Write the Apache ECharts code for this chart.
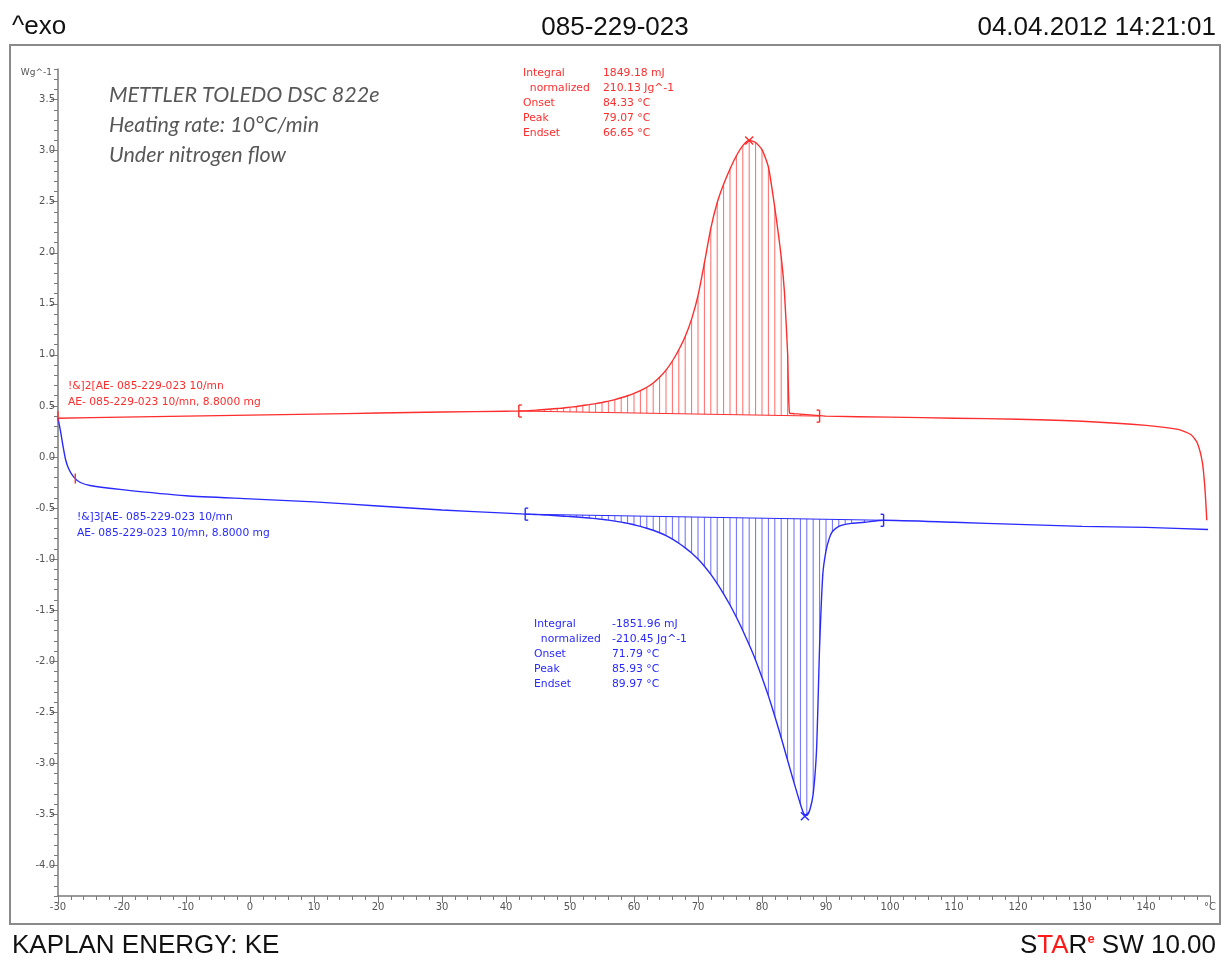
<!DOCTYPE html>
<html><head><meta charset="utf-8">
<script src="https://cdn.jsdelivr.net/npm/echarts@6/dist/echarts.min.js"></script>
<style>html,body{margin:0;padding:0;background:#fff}#c{width:1228px;height:961px}</style>
</head><body><div id="c"></div>
<script>
// ---------- data ----------
const redCurve = [
  [-30,0.38],[-20,0.39],[-10,0.40],[0,0.41],[10,0.42],[20,0.43],[30,0.44],[40,0.448],
  [42,0.45],[43,0.452],[44,0.455],[45,0.46],[46,0.465],[47,0.47],[48,0.475],[49,0.48],
  [50,0.488],[51,0.495],[52,0.504],[53,0.513],[54,0.523],[55,0.534],[56,0.547],[57,0.562],
  [58,0.58],[59,0.60],[60,0.623],[61,0.65],[62,0.683],[63,0.725],[64,0.78],[65,0.85],
  [66,0.94],[67,1.05],[68,1.18],[69,1.35],[70,1.58],[71,1.90],[72,2.24],[73,2.49],
  [74,2.67],[75,2.82],[76,2.95],[77,3.05],[78,3.10],[79,3.08],[80,3.01],[81,2.84],
  [82,2.44],[83,1.96],[83.5,1.62],[84,1.02],[84.3,0.43],[85,0.425],[86,0.42],[88,0.41],
  [90,0.40],[100,0.39],[110,0.38],[120,0.37],[130,0.35],[140,0.31],[145,0.27],[147,0.22],
  [148,0.14],[148.8,-0.05],[149.2,-0.30],[149.5,-0.62]
];
const blueCurve = [
  [-30,0.38],[-29.6,0.25],[-29.2,0.10],[-28.8,-0.03],[-28.3,-0.12],[-27.5,-0.20],[-26.5,-0.25],
  [-25,-0.28],[-20,-0.32],[-10,-0.38],[0,-0.41],[10,-0.44],[20,-0.48],[30,-0.52],[40,-0.55],
  [43,-0.56],[44,-0.562],[45,-0.565],[46,-0.568],[47,-0.572],[48,-0.576],[49,-0.58],[50,-0.584],
  [51,-0.588],[52,-0.593],[53,-0.598],[54,-0.604],[55,-0.611],[56,-0.619],[57,-0.628],[58,-0.638],
  [59,-0.65],[60,-0.664],[61,-0.68],[62,-0.698],[63,-0.718],[64,-0.742],[65,-0.77],[66,-0.805],
  [67,-0.845],[68,-0.89],[69,-0.94],[70,-1.00],[71,-1.07],[72,-1.15],[73,-1.24],[74,-1.34],
  [75,-1.45],[76,-1.57],[77,-1.70],[78,-1.84],[79,-1.99],[80,-2.16],[81,-2.34],[82,-2.54],
  [83,-2.75],[84,-2.97],[85,-3.19],[86,-3.40],[86.5,-3.49],[87,-3.51],[87.5,-3.45],[88,-3.30],
  [88.5,-2.90],[88.8,-2.30],[89,-1.85],[89.5,-1.15],[90,-0.92],[90.5,-0.80],[91,-0.73],[92,-0.68],
  [93,-0.66],[94,-0.65],[96,-0.64],[99,-0.62],[110,-0.64],[120,-0.66],[130,-0.68],[140,-0.69],[149.7,-0.71]
];
const redLimits = [[42,0.45],[89,0.40]];
const blueLimits = [[43,-0.56],[99,-0.62]];
const redPeak = [78,3.10];
const bluePeak = [86.7,-3.52];
const redStartMarks = [[-30,0.40],[-27.3,-0.21]];
const yMajorTicks = [-4.0,-3.5,-3.0,-2.5,-2.0,-1.5,-1.0,-0.5,0.0,0.5,1.0,1.5,2.0,2.5,3.0,3.5];
const xRange = [-30,150];
const yRange = [-4.3,3.8];
const redInfo = [['Integral','1849.18 mJ'],['  normalized','210.13 Jg^-1'],['Onset','84.33 °C'],['Peak','79.07 °C'],['Endset','66.65 °C']];
const blueInfo = [['Integral','-1851.96 mJ'],['  normalized','-210.45 Jg^-1'],['Onset','71.79 °C'],['Peak','85.93 °C'],['Endset','89.97 °C']];
const redLabel = ['!&]2[AE- 085-229-023 10/mn','AE- 085-229-023 10/mn, 8.8000 mg'];
const blueLabel = ['!&]3[AE- 085-229-023 10/mn','AE- 085-229-023 10/mn, 8.8000 mg'];
const noteLines = ['METTLER TOLEDO DSC 822e','Heating rate: 10°C/min','Under nitrogen flow'];
const headerTexts = ['^exo','085-229-023','04.04.2012 14:21:01'];
const footerLeft = 'KAPLAN ENERGY: KE';
const yUnit = 'Wg^-1';

// ---------- helpers ----------
const RED = '#ff2e2e', BLUE = '#2a2aff';
function baseAt(lim, t){ const [a,b]=lim; return a[1] + (b[1]-a[1])*(t-a[0])/(b[0]-a[0]); }
function hatchData(curve, lim){
  return curve.filter(p => Number.isInteger(p[0]) && p[0] > lim[0][0] && p[0] < lim[1][0])
              .map(p => [p[0], p[1], baseAt(lim, p[0])]);
}
function hatchRender(color){
  return function(params, api){
    const a = api.coord([api.value(0), api.value(1)]);
    const b = api.coord([api.value(0), api.value(2)]);
    return {type:'line', shape:{x1:a[0],y1:a[1],x2:b[0],y2:b[1]}, style:{stroke:color, lineWidth:1}};
  };
}
function markRender(color){
  return function(params, api){
    const p = api.coord([api.value(0), api.value(1)]);
    const k = api.value(2);
    const st = {stroke:color, lineWidth:1.4};
    const L = (x1,y1,x2,y2)=>({type:'line', shape:{x1,y1,x2,y2}, style:st});
    let ch = [];
    if (k === 0 || k === 1) {
      const d = k === 0 ? 3 : -3;
      ch = [L(p[0],p[1]-6,p[0],p[1]+6), L(p[0],p[1]-6,p[0]+d,p[1]-6), L(p[0],p[1]+6,p[0]+d,p[1]+6)];
    } else if (k === 2) {
      ch = [L(p[0]-4,p[1]-4,p[0]+4,p[1]+4), L(p[0]-4,p[1]+4,p[0]+4,p[1]-4)];
    } else {
      ch = [L(p[0],p[1]-5,p[0],p[1]+5)];
    }
    return {type:'group', children:ch};
  };
}
const redMarks = [[redLimits[0][0],redLimits[0][1],0],[redLimits[1][0],redLimits[1][1],1],[redPeak[0],redPeak[1],2],
  [redStartMarks[0][0],redStartMarks[0][1],3],[redStartMarks[1][0],redStartMarks[1][1],3]];
const blueMarks = [[blueLimits[0][0],blueLimits[0][1],0],[blueLimits[1][0],blueLimits[1][1],1],[bluePeak[0],bluePeak[1],2]];

const small = 'DejaVu Sans';
const graphics = [
  {type:'rect', shape:{x:10,y:45,width:1210,height:879}, style:{fill:'none', stroke:'#8a8a8a', lineWidth:2}, z:-1},
  {type:'text', left:12, top:14, style:{text:headerTexts[0], font:'26px "Liberation Sans"', fill:'#111'}},
  {type:'text', x:615, y:28, style:{text:headerTexts[1], font:'26px "Liberation Sans"', fill:'#111', align:'center', verticalAlign:'middle'}},
  {type:'text', x:1216, y:28, style:{text:headerTexts[2], font:'26px "Liberation Sans"', fill:'#111', align:'right', verticalAlign:'middle'}},
  {type:'text', x:12, y:946, style:{text:footerLeft, font:'26px "Liberation Sans"', fill:'#111', verticalAlign:'middle'}},
  {type:'text', x:1216, y:946, style:{
    text:'{k|S}{r|TA}{k|R}{e|e}{k| SW 10.00}', align:'right', verticalAlign:'middle',
    rich:{k:{font:'26px "Liberation Sans"', fill:'#111'}, r:{font:'26px "Liberation Sans"', fill:'#ff1a1a'},
          e:{font:'bold 13px "Liberation Sans"', fill:'#ff1a1a', verticalAlign:'top'}}}},
  {type:'text', x:52, y:73, style:{text:yUnit, font:'9px '+small, fill:'#555', align:'right', verticalAlign:'middle'}}
];
noteLines.forEach((t,i)=>graphics.push({type:'text', x:109, y:95+i*30,
  style:{text:t, font:'italic 21.5px Lato', fill:'#585858', verticalAlign:'middle'}}));
redInfo.forEach((r,i)=>{
  graphics.push({type:'text', x:523, y:73+i*15, style:{text:r[0], font:'10.8px '+small, fill:RED, verticalAlign:'middle'}});
  graphics.push({type:'text', x:603, y:73+i*15, style:{text:r[1], font:'10.8px '+small, fill:RED, verticalAlign:'middle'}});
});
blueInfo.forEach((r,i)=>{
  graphics.push({type:'text', x:534, y:624+i*15, style:{text:r[0], font:'10.8px '+small, fill:BLUE, verticalAlign:'middle'}});
  graphics.push({type:'text', x:612, y:624+i*15, style:{text:r[1], font:'10.8px '+small, fill:BLUE, verticalAlign:'middle'}});
});
redLabel.forEach((t,i)=>graphics.push({type:'text', x:68, y:386+i*16, style:{text:t, font:'10.7px '+small, fill:RED, verticalAlign:'middle'}}));
blueLabel.forEach((t,i)=>graphics.push({type:'text', x:77, y:517+i*16, style:{text:t, font:'10.7px '+small, fill:BLUE, verticalAlign:'middle'}}));

const axisGray = '#7a7a7a';
const option = {
  animation:false,
  backgroundColor:'#fff',
  grid:{left:58, right:18, top:69, bottom:65, containLabel:false},
  xAxis:{type:'value', min:xRange[0], max:xRange[1], interval:10,
    axisLine:{show:true, onZero:false, lineStyle:{color:axisGray, width:1.5}},
    axisTick:{show:true, length:7, lineStyle:{color:axisGray}},
    minorTick:{show:true, splitNumber:5, length:4, lineStyle:{color:axisGray}},
    splitLine:{show:false},
    axisLabel:{color:'#555', fontFamily:small, fontSize:10, margin:6,
      formatter:v => v === xRange[1] ? '°C' : String(v)}},
  yAxis:[
    {type:'value', min:yRange[0], max:yRange[1], interval:0.1, position:'left',
      axisLine:{show:true, onZero:false, lineStyle:{color:axisGray, width:1.5}},
      axisTick:{show:true, length:4, lineStyle:{color:axisGray}},
      axisLabel:{show:false}, splitLine:{show:false}},
    {type:'value', min:yRange[0], max:yRange[1], position:'left', offset:0,
      axisLine:{show:false, onZero:false},
      axisTick:{show:true, length:7, customValues:yMajorTicks, lineStyle:{color:axisGray}},
      axisLabel:{show:true, customValues:yMajorTicks, color:'#555', fontFamily:small, fontSize:10, margin:3,
        formatter:v => v.toFixed(1)},
      splitLine:{show:false}}
  ],
  graphic:graphics,
  series:[
    {type:'custom', name:'redHatch', renderItem:hatchRender('#ff6a6a'), data:hatchData(redCurve, redLimits), z:2, silent:true},
    {type:'custom', name:'blueHatch', renderItem:hatchRender('#6a6aff'), data:hatchData(blueCurve, blueLimits), z:2, silent:true},
    {type:'line', name:'redBase', data:redLimits, symbol:'none', lineStyle:{color:RED, width:1}, z:3},
    {type:'line', name:'blueBase', data:blueLimits, symbol:'none', lineStyle:{color:BLUE, width:1}, z:3},
    {type:'line', name:'red', data:redCurve, symbol:'none', smooth:0.2, lineStyle:{color:RED, width:1.4}, z:4},
    {type:'line', name:'blue', data:blueCurve, symbol:'none', smooth:0.2, lineStyle:{color:BLUE, width:1.4}, z:4},
    {type:'custom', name:'redMarks', renderItem:markRender(RED), data:redMarks, z:5, silent:true},
    {type:'custom', name:'blueMarks', renderItem:markRender(BLUE), data:blueMarks, z:5, silent:true}
  ]
};
echarts.init(document.getElementById('c')).setOption(option);
</script></body></html>
